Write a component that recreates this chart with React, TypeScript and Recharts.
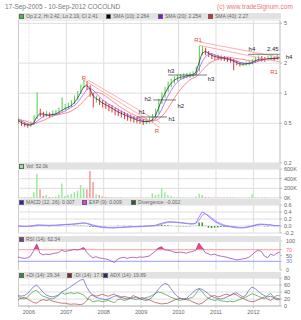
import {
  Area,
  Bar,
  CartesianGrid,
  Cell,
  ComposedChart,
  Line,
  ReferenceDot,
  ReferenceLine,
  XAxis,
  YAxis,
} from "recharts";

// monthly samples, Sep 2005 .. Sep 2012
const START = 2005.71;
const END = 2012.71;
const YEARS = [2006, 2007, 2008, 2009, 2010, 2011, 2012];

const closes = [
  0.52, 0.5, 0.48, 0.47, 0.48, 0.55, 0.66, 0.62, 0.6, 0.61,
  0.6, 0.62, 0.63, 0.66, 0.7, 0.72, 0.74, 0.78, 0.85, 0.95,
  1.12, 1.28, 1.2, 1.05, 0.85, 0.88, 0.82, 0.78, 0.75, 0.72,
  0.7, 0.66, 0.64, 0.62, 0.6, 0.58, 0.56, 0.55, 0.54, 0.52,
  0.51, 0.52, 0.53, 0.56, 0.62, 0.78, 0.92, 1.05, 1.2, 1.3,
  1.38, 1.42, 1.45, 1.48, 1.5, 1.52, 1.55, 1.65, 2.5, 2.8,
  2.6, 2.45, 2.35, 2.3, 2.28, 2.25, 2.22, 2.18, 2.15, 2.05,
  2.0, 1.95, 1.95, 1.98, 2.0, 2.05, 2.15, 2.22, 2.2, 2.18,
  2.22, 2.25, 2.2, 2.28, 2.32,
];
const highs = [
  0.57, 0.53, 0.51, 0.5, 0.52, 0.6, 1.02, 0.7, 0.65, 0.66,
  0.64, 0.67, 0.68, 0.72, 0.91, 0.78, 0.8, 0.85, 0.95, 1.05,
  1.22, 1.36, 1.32, 1.2, 1.0, 0.95, 0.9, 0.85, 0.82, 0.78,
  0.76, 0.72, 0.7, 0.67, 0.65, 0.63, 0.61, 0.59, 0.58, 0.56,
  0.55, 0.56, 0.57, 0.62, 0.7, 0.88, 1.02, 1.15, 1.3, 1.4,
  1.48, 1.52, 1.55, 1.58, 1.6, 1.62, 1.66, 1.85, 3.0, 2.95,
  2.85, 2.65, 2.5, 2.45, 2.42, 2.38, 2.35, 2.3, 2.28, 2.2,
  2.12, 2.05, 2.05, 2.08, 2.1, 2.18, 2.3, 2.38, 2.35, 2.3,
  2.35, 2.4, 2.32, 2.42, 2.45,
];
const lows = [
  0.49, 0.47, 0.46, 0.45, 0.46, 0.48, 0.55, 0.58, 0.57, 0.58,
  0.57, 0.58, 0.6, 0.62, 0.65, 0.67, 0.7, 0.73, 0.78, 0.86,
  0.98, 1.12, 1.08, 0.92, 0.72, 0.8, 0.76, 0.72, 0.7, 0.66,
  0.64, 0.6, 0.59, 0.57, 0.55, 0.53, 0.52, 0.51, 0.5, 0.49,
  0.48, 0.49, 0.5, 0.51, 0.56, 0.62, 0.78, 0.9, 1.02, 1.15,
  1.25, 1.32, 1.36, 1.38, 1.4, 1.42, 1.45, 1.5, 1.65, 2.4,
  2.4, 2.3, 2.2, 2.15, 2.15, 2.12, 2.1, 2.05, 2.02, 1.7,
  1.9, 1.85, 1.86, 1.88, 1.9, 1.95, 2.02, 2.1, 2.08, 2.06,
  2.1, 2.12, 2.1, 2.15, 2.19,
];
const sma10 = [
  0.53, 0.51, 0.49, 0.48, 0.48, 0.5, 0.58, 0.62, 0.62, 0.61,
  0.6, 0.61, 0.62, 0.64, 0.67, 0.7, 0.72, 0.75, 0.8, 0.88,
  1.0, 1.15, 1.2, 1.12, 0.95, 0.88, 0.85, 0.8, 0.77, 0.74,
  0.71, 0.68, 0.65, 0.63, 0.61, 0.59, 0.57, 0.56, 0.54, 0.53,
  0.52, 0.52, 0.52, 0.54, 0.59, 0.7, 0.85, 0.98, 1.12, 1.25,
  1.34, 1.4, 1.44, 1.46, 1.49, 1.51, 1.53, 1.6, 2.0, 2.5,
  2.62, 2.52, 2.4, 2.33, 2.29, 2.26, 2.23, 2.2, 2.16, 2.1,
  2.03, 1.97, 1.95, 1.96, 1.99, 2.02, 2.1, 2.18, 2.2, 2.19,
  2.2, 2.23, 2.22, 2.24, 2.26,
];
const sma20 = [
  0.54, 0.53, 0.51, 0.49, 0.48, 0.49, 0.52, 0.55, 0.58, 0.6,
  0.61, 0.61, 0.61, 0.62, 0.64, 0.66, 0.69, 0.72, 0.75, 0.8,
  0.88, 0.98, 1.08, 1.12, 1.08, 1.0, 0.93, 0.86, 0.82, 0.78,
  0.75, 0.72, 0.69, 0.66, 0.64, 0.61, 0.59, 0.57, 0.56, 0.55,
  0.53, 0.52, 0.52, 0.53, 0.55, 0.6, 0.68, 0.8, 0.93, 1.05,
  1.18, 1.28, 1.36, 1.41, 1.45, 1.48, 1.5, 1.53, 1.75, 2.05,
  2.3, 2.45, 2.5, 2.42, 2.35, 2.3, 2.27, 2.24, 2.2, 2.15,
  2.1, 2.05, 2.0, 1.98, 1.97, 1.99, 2.03, 2.08, 2.13, 2.17,
  2.19, 2.2, 2.21, 2.23, 2.25,
];
const sma40 = [
  0.55, 0.54, 0.53, 0.52, 0.5, 0.5, 0.5, 0.52, 0.53, 0.55,
  0.57, 0.59, 0.6, 0.61, 0.62, 0.63, 0.64, 0.66, 0.69, 0.72,
  0.77, 0.83, 0.9, 0.96, 1.0, 1.02, 1.01, 0.98, 0.94, 0.89,
  0.84, 0.8, 0.76, 0.72, 0.69, 0.66, 0.63, 0.61, 0.59, 0.57,
  0.55, 0.54, 0.53, 0.53, 0.53, 0.55, 0.58, 0.63, 0.7, 0.78,
  0.88, 0.98, 1.08, 1.18, 1.27, 1.35, 1.41, 1.45, 1.55, 1.68,
  1.82, 1.95, 2.05, 2.12, 2.18, 2.24, 2.28, 2.3, 2.28, 2.25,
  2.22, 2.2, 2.18, 2.15, 2.12, 2.1, 2.1, 2.12, 2.14, 2.17,
  2.2, 2.22, 2.24, 2.26, 2.27,
];
// thousands of shares
const volume = [
  30, 10, 10, 10, 20, 120, 500, 180, 40, 60,
  20, 20, 30, 60, 300, 40, 60, 80, 120, 150,
  270, 200, 180, 560, 330, 80, 60, 30, 20, 10,
  10, 10, 8, 8, 6, 6, 6, 5, 5, 5,
  5, 8, 10, 100, 60, 80, 200, 120, 60, 40,
  20, 15, 15, 10, 10, 10, 12, 30, 90, 60,
  20, 15, 10, 10, 8, 8, 8, 10, 8, 8,
  6, 6, 5, 5, 10, 80, 15, 10, 8, 8,
  8, 6, 6, 8, 30,
];
const macd = [
  0, -0.01, -0.01, -0.01, 0, 0.01, 0.03, 0.03, 0.02, 0.02,
  0.01, 0.02, 0.02, 0.03, 0.04, 0.04, 0.05, 0.05, 0.06, 0.07,
  0.08, 0.09, 0.07, 0.04, 0, -0.01, -0.03, -0.04, -0.05, -0.05,
  -0.05, -0.05, -0.04, -0.04, -0.03, -0.03, -0.02, -0.02, -0.02, -0.01,
  -0.01, 0, 0, 0.01, 0.02, 0.05, 0.08, 0.1, 0.12, 0.12,
  0.11, 0.1, 0.09, 0.08, 0.07, 0.06, 0.06, 0.08, 0.25, 0.4,
  0.36, 0.28, 0.2, 0.13, 0.08, 0.04, 0.01, -0.01, -0.02, -0.04,
  -0.05, -0.05, -0.05, -0.04, -0.02, 0, 0.03, 0.05, 0.05, 0.04,
  0.03, 0.03, 0.01, 0.01, 0.01,
];
const signal = [
  0, 0, -0.01, -0.01, -0.01, 0, 0.01, 0.02, 0.02, 0.02,
  0.02, 0.02, 0.02, 0.02, 0.03, 0.04, 0.04, 0.05, 0.05, 0.06,
  0.07, 0.08, 0.08, 0.06, 0.03, 0.01, -0.01, -0.03, -0.04, -0.05,
  -0.05, -0.05, -0.05, -0.04, -0.04, -0.03, -0.03, -0.02, -0.02, -0.02,
  -0.01, -0.01, 0, 0, 0.01, 0.03, 0.05, 0.08, 0.1, 0.11,
  0.11, 0.11, 0.1, 0.09, 0.08, 0.07, 0.06, 0.07, 0.15, 0.3,
  0.35, 0.31, 0.24, 0.17, 0.11, 0.07, 0.03, 0.01, -0.01, -0.02,
  -0.04, -0.05, -0.05, -0.05, -0.03, -0.01, 0.01, 0.04, 0.05, 0.05,
  0.04, 0.03, 0.02, 0.01, 0.01,
];
const divergence = [
  0, -0.01, 0, 0, 0.01, 0.01, 0.02, 0.01, 0, 0,
  -0.01, 0, 0, 0.01, 0.01, 0, 0.01, 0, 0.01, 0.01,
  0.01, 0.01, -0.01, -0.02, -0.03, -0.02, -0.02, -0.01, -0.01, 0,
  0, 0, 0.01, 0, 0.01, 0, 0.01, 0, 0, 0.01,
  0, 0.01, 0, 0.01, 0.01, 0.02, 0.03, 0.02, 0.02, 0.01,
  0, -0.01, -0.01, -0.01, -0.01, -0.01, 0, 0.01, 0.1, 0.1,
  0.01, -0.05, -0.06, -0.05, -0.04, -0.03, -0.02, -0.02, -0.01, -0.02,
  -0.01, 0, 0, 0.01, 0.01, 0.01, 0.02, 0.01, 0, -0.01,
  -0.01, 0, -0.01, 0, 0,
];
const rsi = [
  45, 42, 40, 42, 48, 66, 90, 58, 52, 55,
  53, 56, 58, 60, 68, 64, 66, 68, 71, 69,
  72, 78, 62, 50, 42, 46, 42, 40, 38, 36,
  30, 26, 38, 42, 44, 40, 43, 44, 42, 45,
  44, 46, 48, 56, 64, 76, 80, 70, 68, 66,
  62, 60, 62, 60, 58, 62, 64, 68, 93, 78,
  60, 56, 52, 55, 50, 48, 46, 44, 40, 38,
  35, 36, 38, 40, 44, 52, 62, 68, 64, 48,
  42, 55, 50, 58, 62,
];
const plusDI = [
  28, 22, 20, 25, 35, 42, 45, 35, 28, 25,
  22, 20, 24, 30, 38, 34, 36, 38, 35, 38,
  35, 32, 22, 18, 12, 14, 15, 12, 14, 16,
  12, 10, 18, 20, 16, 18, 22, 20, 18, 22,
  20, 24, 26, 30, 36, 40, 38, 34, 30, 25,
  22, 18, 16, 18, 20, 22, 25, 35, 48, 42,
  30, 22, 18, 16, 18, 15, 14, 12, 14, 12,
  15, 18, 22, 25, 30, 35, 32, 28, 24, 20,
  30, 36, 25, 30, 29,
];
const minusDI = [
  18, 22, 25, 20, 15, 10, 8, 15, 18, 16,
  18, 14, 12, 10, 8, 8, 6, 5, 6, 5,
  4, 6, 15, 28, 32, 28, 30, 34, 30, 28,
  32, 34, 26, 24, 28, 25, 22, 24, 26, 22,
  24, 20, 18, 14, 10, 8, 6, 7, 8, 12,
  16, 20, 22, 20, 18, 16, 12, 8, 5, 8,
  15, 22, 28, 30, 26, 28, 32, 34, 30, 35,
  32, 26, 22, 18, 14, 12, 14, 18, 22, 26,
  20, 16, 22, 18, 18,
];
const adx = [
  30, 28, 30, 35, 45, 55, 60, 50, 40, 32,
  28, 26, 28, 32, 40, 45, 50, 56, 62, 68,
  74, 76, 55, 40, 30, 25, 22, 20, 18, 20,
  24, 28, 30, 26, 22, 20, 24, 30, 25, 20,
  18, 16, 18, 25, 35, 48, 58, 64, 62, 50,
  38, 28, 22, 20, 22, 30, 38, 46, 50, 48,
  42, 35, 28, 24, 22, 20, 22, 26, 30, 35,
  38, 32, 26, 30, 45, 54, 50, 42, 35, 30,
  26, 28, 24, 22, 20,
];

// support / resistance marks drawn on the price panel
const levels = [
  { from: 2008.89, to: 2009.69, price: 0.578 },
  { from: 2009.32, to: 2009.93, price: 0.855 },
  { from: 2009.72, to: 2010.76, price: 1.52 },
  { from: 2011.86, to: 2012.71, price: 2.45 },
];
const trendLines = [
  [2007.47, 1.355, 2009.5, 0.455],
  [2007.58, 1.355, 2009.5, 0.51],
  [2010.57, 3.25, 2012.71, 2.29],
  [2010.57, 3.0, 2012.71, 2.05],
];
const tags = [
  { text: "h1", yr: 2009.02, price: 0.65, red: false },
  { text: "h1", yr: 2009.82, price: 0.55, red: false },
  { text: "h2", yr: 2009.18, price: 0.88, red: false },
  { text: "h2", yr: 2010.06, price: 0.74, red: false },
  { text: "h3", yr: 2009.8, price: 1.67, red: false },
  { text: "h3", yr: 2010.87, price: 1.39, red: false },
  { text: "h4", yr: 2011.96, price: 2.77, red: false },
  { text: "2.45", yr: 2012.52, price: 2.77, red: false },
  { text: "h4", yr: 2012.95, price: 2.3, red: false },
  { text: "R", yr: 2007.47, price: 1.42, red: true },
  { text: "R", yr: 2009.42, price: 0.42, red: true },
  { text: "R1", yr: 2010.52, price: 3.4, red: true },
  { text: "R1", yr: 2012.55, price: 1.63, red: true },
];

const rows = closes.map((close, i) => ({
  yr: START + i / 12,
  close,
  hl: [lows[i], highs[i]],
  up: i === 0 || close >= closes[i - 1],
  sma10: sma10[i],
  sma20: sma20[i],
  sma40: sma40[i],
  vol: volume[i],
  macd: macd[i],
  signal: signal[i],
  div: divergence[i],
  rsi: rsi[i],
  rsiHot: [70, Math.max(rsi[i], 70)],
  pdi: plusDI[i],
  mdi: minusDI[i],
  adx: adx[i],
}));

const UP = "#55d655";
const DOWN = "#e54545";
const GRID = "#dedede";
const FONT = '"Liberation Sans", Arial, sans-serif';
const MARGIN = { top: 6, right: 0, bottom: 6, left: 18 };

const yAxisProps = {
  orientation: "right" as const,
  width: 21,
  tickSize: 2,
  interval: 0 as const,
  tick: { fontSize: 5.5, fill: "#666", fontFamily: FONT },
  axisLine: { stroke: "#bbb" },
  tickLine: { stroke: "#bbb" },
};

const Candle = (props: any) => {
  const { x, y, width, height, payload } = props;
  const cx = x + width / 2;
  return (
    <line
      x1={cx}
      x2={cx}
      y1={y}
      y2={y + height}
      stroke={payload.up ? UP : DOWN}
      strokeWidth={1.1}
    />
  );
};

const yearLines = () =>
  YEARS.map((yr) => (
    <ReferenceLine
      key={yr}
      x={yr}
      stroke={GRID}
      strokeDasharray={yr === 2006 ? "1 1" : undefined}
    />
  ));

function Band({ top, items }: { top: number; items: { left: number; color: string; text: string }[] }) {
  return (
    <div
      style={{
        position: "absolute",
        left: 18,
        top,
        width: 263,
        height: 6,
        background: "#e2e2e2",
        fontSize: 5,
        lineHeight: "6px",
        color: "#666",
      }}
    >
      {items.map((it) => (
        <div key={it.text} style={{ position: "absolute", left: it.left, top: 0, whiteSpace: "nowrap" }}>
          <span
            style={{
              display: "inline-block",
              width: 3,
              height: 3,
              background: it.color,
              border: "0.5px solid #666",
              marginRight: 2,
              verticalAlign: "middle",
            }}
          />
          {it.text}
        </div>
      ))}
    </div>
  );
}

const Frame = ({ top, height }: { top: number; height: number }) => (
  <div
    style={{
      position: "absolute",
      left: 18,
      top,
      width: 263,
      height,
      borderLeft: "1px solid #ccc",
      boxSizing: "border-box",
    }}
  />
);

const at = (top: number) => ({ position: "absolute" as const, left: 0, top });

const hiddenX = (
  <XAxis dataKey="yr" type="number" domain={[START, END]} hide allowDataOverflow />
);

const rsiTick = (props: any) => {
  const { x, y, payload } = props;
  const v = payload.value;
  const fill = v === 70 ? "#ff6f6f" : v === 30 ? "#7777ff" : "#666";
  return (
    <text x={x + 2} y={y} dy={2} fontSize={5.5} fill={fill} fontFamily={FONT}>
      {v}
    </text>
  );
};

export default function App() {
  return (
    <div
      style={{
        position: "absolute",
        left: 0,
        top: 0,
        width: 301,
        height: 320,
        background: "#fff",
        fontFamily: FONT,
        overflow: "hidden",
      }}
    >
      <div style={{ position: "absolute", left: 5, top: 3, fontSize: 6.5, color: "#777" }}>
        17-Sep-2005 - 10-Sep-2012 COCOLND
      </div>
      <div style={{ position: "absolute", left: 217, top: 3, fontSize: 6.5, color: "#e77" }}>
        (c) www.tradeSignum.com
      </div>

      <Frame top={20} height={143} />
      <Frame top={169} height={29} />
      <Frame top={205} height={28} />
      <Frame top={241} height={29} />
      <Frame top={278} height={28} />

      {/* price */}
      <div style={at(14)}>
        <ComposedChart width={301} height={155} data={rows} margin={MARGIN}>
          <CartesianGrid vertical={false} stroke={GRID} />
          {hiddenX}
          <YAxis
            {...yAxisProps}
            scale="log"
            domain={[0.2, 5.4]}
            ticks={[0.2, 0.5, 1, 2, 5]}
            allowDataOverflow
          />
          {yearLines()}
          <Bar dataKey="hl" barSize={2} shape={Candle} isAnimationActive={false} />
          <Line dataKey="sma40" stroke="#ff5a5a" strokeWidth={0.7} dot={false} isAnimationActive={false} />
          <Line dataKey="sma20" stroke="#a040ff" strokeWidth={0.7} dot={false} isAnimationActive={false} />
          <Line dataKey="sma10" stroke="#222" strokeWidth={0.7} dot={false} isAnimationActive={false} />
          {trendLines.map((t, i) => (
            <ReferenceLine
              key={`t${i}`}
              segment={[
                { x: t[0], y: t[1] },
                { x: t[2], y: t[3] },
              ]}
              stroke="#ff9a9a"
              strokeWidth={0.8}
              ifOverflow="visible"
            />
          ))}
          {levels.map((l, i) => (
            <ReferenceLine
              key={`l${i}`}
              segment={[
                { x: l.from, y: l.price },
                { x: l.to, y: l.price },
              ]}
              stroke="#444"
              strokeWidth={0.7}
              ifOverflow="visible"
            />
          ))}
          {tags.map((t, i) => (
            <ReferenceDot
              key={`g${i}`}
              x={t.yr}
              y={t.price}
              ifOverflow="visible"
              shape={(p: any) => (
                <text
                  x={p.cx}
                  y={p.cy}
                  textAnchor="middle"
                  dominantBaseline="central"
                  fontSize={6}
                  fontFamily={FONT}
                  fill={t.red ? "#f04040" : "#223"}
                >
                  {t.text}
                </text>
              )}
            />
          ))}
        </ComposedChart>
      </div>

      {/* volume */}
      <div style={at(163)}>
        <ComposedChart width={301} height={41} data={rows} margin={MARGIN}>
          <CartesianGrid vertical={false} stroke={GRID} />
          {hiddenX}
          <YAxis
            {...yAxisProps}
            domain={[0, 600]}
            ticks={[0, 200, 400, 600]}
            tickFormatter={(v: number) => `${v}K`}
          />
          {yearLines()}
          <Bar dataKey="vol" barSize={1.5} isAnimationActive={false}>
            {rows.map((r, i) => (
              <Cell key={i} fill={r.up ? "#9be89b" : "#f09a9a"} />
            ))}
          </Bar>
        </ComposedChart>
      </div>

      {/* MACD */}
      <div style={at(199)}>
        <ComposedChart width={301} height={40} data={rows} margin={MARGIN}>
          <CartesianGrid vertical={false} stroke={GRID} />
          {hiddenX}
          <YAxis
            {...yAxisProps}
            domain={[-0.2, 0.6]}
            ticks={[-0.2, 0, 0.2, 0.4, 0.6]}
            tickFormatter={(v: number) => v.toFixed(1)}
            allowDataOverflow
          />
          {yearLines()}
          <Bar dataKey="div" barSize={1.5} fill="#2f9a2f" isAnimationActive={false} />
          <Line dataKey="signal" stroke="#c77bff" strokeWidth={0.9} dot={false} isAnimationActive={false} />
          <Line dataKey="macd" stroke="#7f86ff" strokeWidth={0.9} dot={false} isAnimationActive={false} />
        </ComposedChart>
      </div>

      {/* RSI */}
      <div style={at(235)}>
        <ComposedChart width={301} height={41} data={rows} margin={MARGIN}>
          {hiddenX}
          <YAxis {...yAxisProps} domain={[0, 100]} ticks={[0, 30, 50, 70, 100]} tick={rsiTick} />
          {yearLines()}
          <ReferenceLine y={70} stroke="#ff9a9a" />
          <ReferenceLine y={30} stroke="#9a9aff" />
          <Area
            dataKey="rsiHot"
            stroke="none"
            fill="#f0306a"
            fillOpacity={0.9}
            isAnimationActive={false}
          />
          <Line dataKey="rsi" stroke="#a04aa8" strokeWidth={0.8} dot={false} isAnimationActive={false} />
        </ComposedChart>
      </div>

      {/* DMI / ADX */}
      <div style={at(272)}>
        <ComposedChart width={301} height={44} data={rows} margin={{ ...MARGIN, bottom: 0 }}>
          <CartesianGrid vertical={false} stroke={GRID} />
          <XAxis
            dataKey="yr"
            type="number"
            domain={[START, END]}
            ticks={YEARS}
            interval={0}
            allowDataOverflow
            height={10}
            tickSize={2}
            tick={{ fontSize: 5.5, fill: "#666", fontFamily: FONT }}
            axisLine={{ stroke: "#bbb" }}
            tickLine={{ stroke: "#bbb" }}
          />
          <YAxis {...yAxisProps} domain={[0, 80]} ticks={[0, 20, 40, 60, 80]} />
          {yearLines()}
          <Line dataKey="mdi" stroke="#b04040" strokeWidth={0.7} dot={false} isAnimationActive={false} />
          <Line dataKey="pdi" stroke="#3a9a3a" strokeWidth={0.7} dot={false} isAnimationActive={false} />
          <Line dataKey="adx" stroke="#5a5ab0" strokeWidth={0.7} dot={false} isAnimationActive={false} />
        </ComposedChart>
      </div>

      <Band
        top={13}
        items={[
          { left: 1, color: "#3c3", text: "Op 2.2, Hi 2.42, Lo 2.19, Cl 2.41" },
          { left: 88, color: "#000", text: "SMA (10): 2.264" },
          { left: 140, color: "#90f", text: "SMA (20): 2.254" },
          { left: 190, color: "#e22", text: "SMA (40): 2.27" },
        ]}
      />
      <Band top={162.5} items={[{ left: 1, color: "#8e8", text: "Vol: 52.0k" }]} />
      <Band
        top={199}
        items={[
          { left: 1, color: "#22c", text: "MACD (12, 26): 0.007" },
          { left: 64, color: "#e3e", text: "EXP (9): 0.009" },
          { left: 113, color: "#262", text: "Divergence: -0.002" },
        ]}
      />
      <Band top={235.5} items={[{ left: 1, color: "#838", text: "RSI (14): 62.34" }]} />
      <Band
        top={272}
        items={[
          { left: 1, color: "#292", text: "+DI (14): 29.34" },
          { left: 49, color: "#822", text: "-DI (14): 17.61" },
          { left: 85, color: "#228", text: "ADX (14): 19.89" },
        ]}
      />
    </div>
  );
}
